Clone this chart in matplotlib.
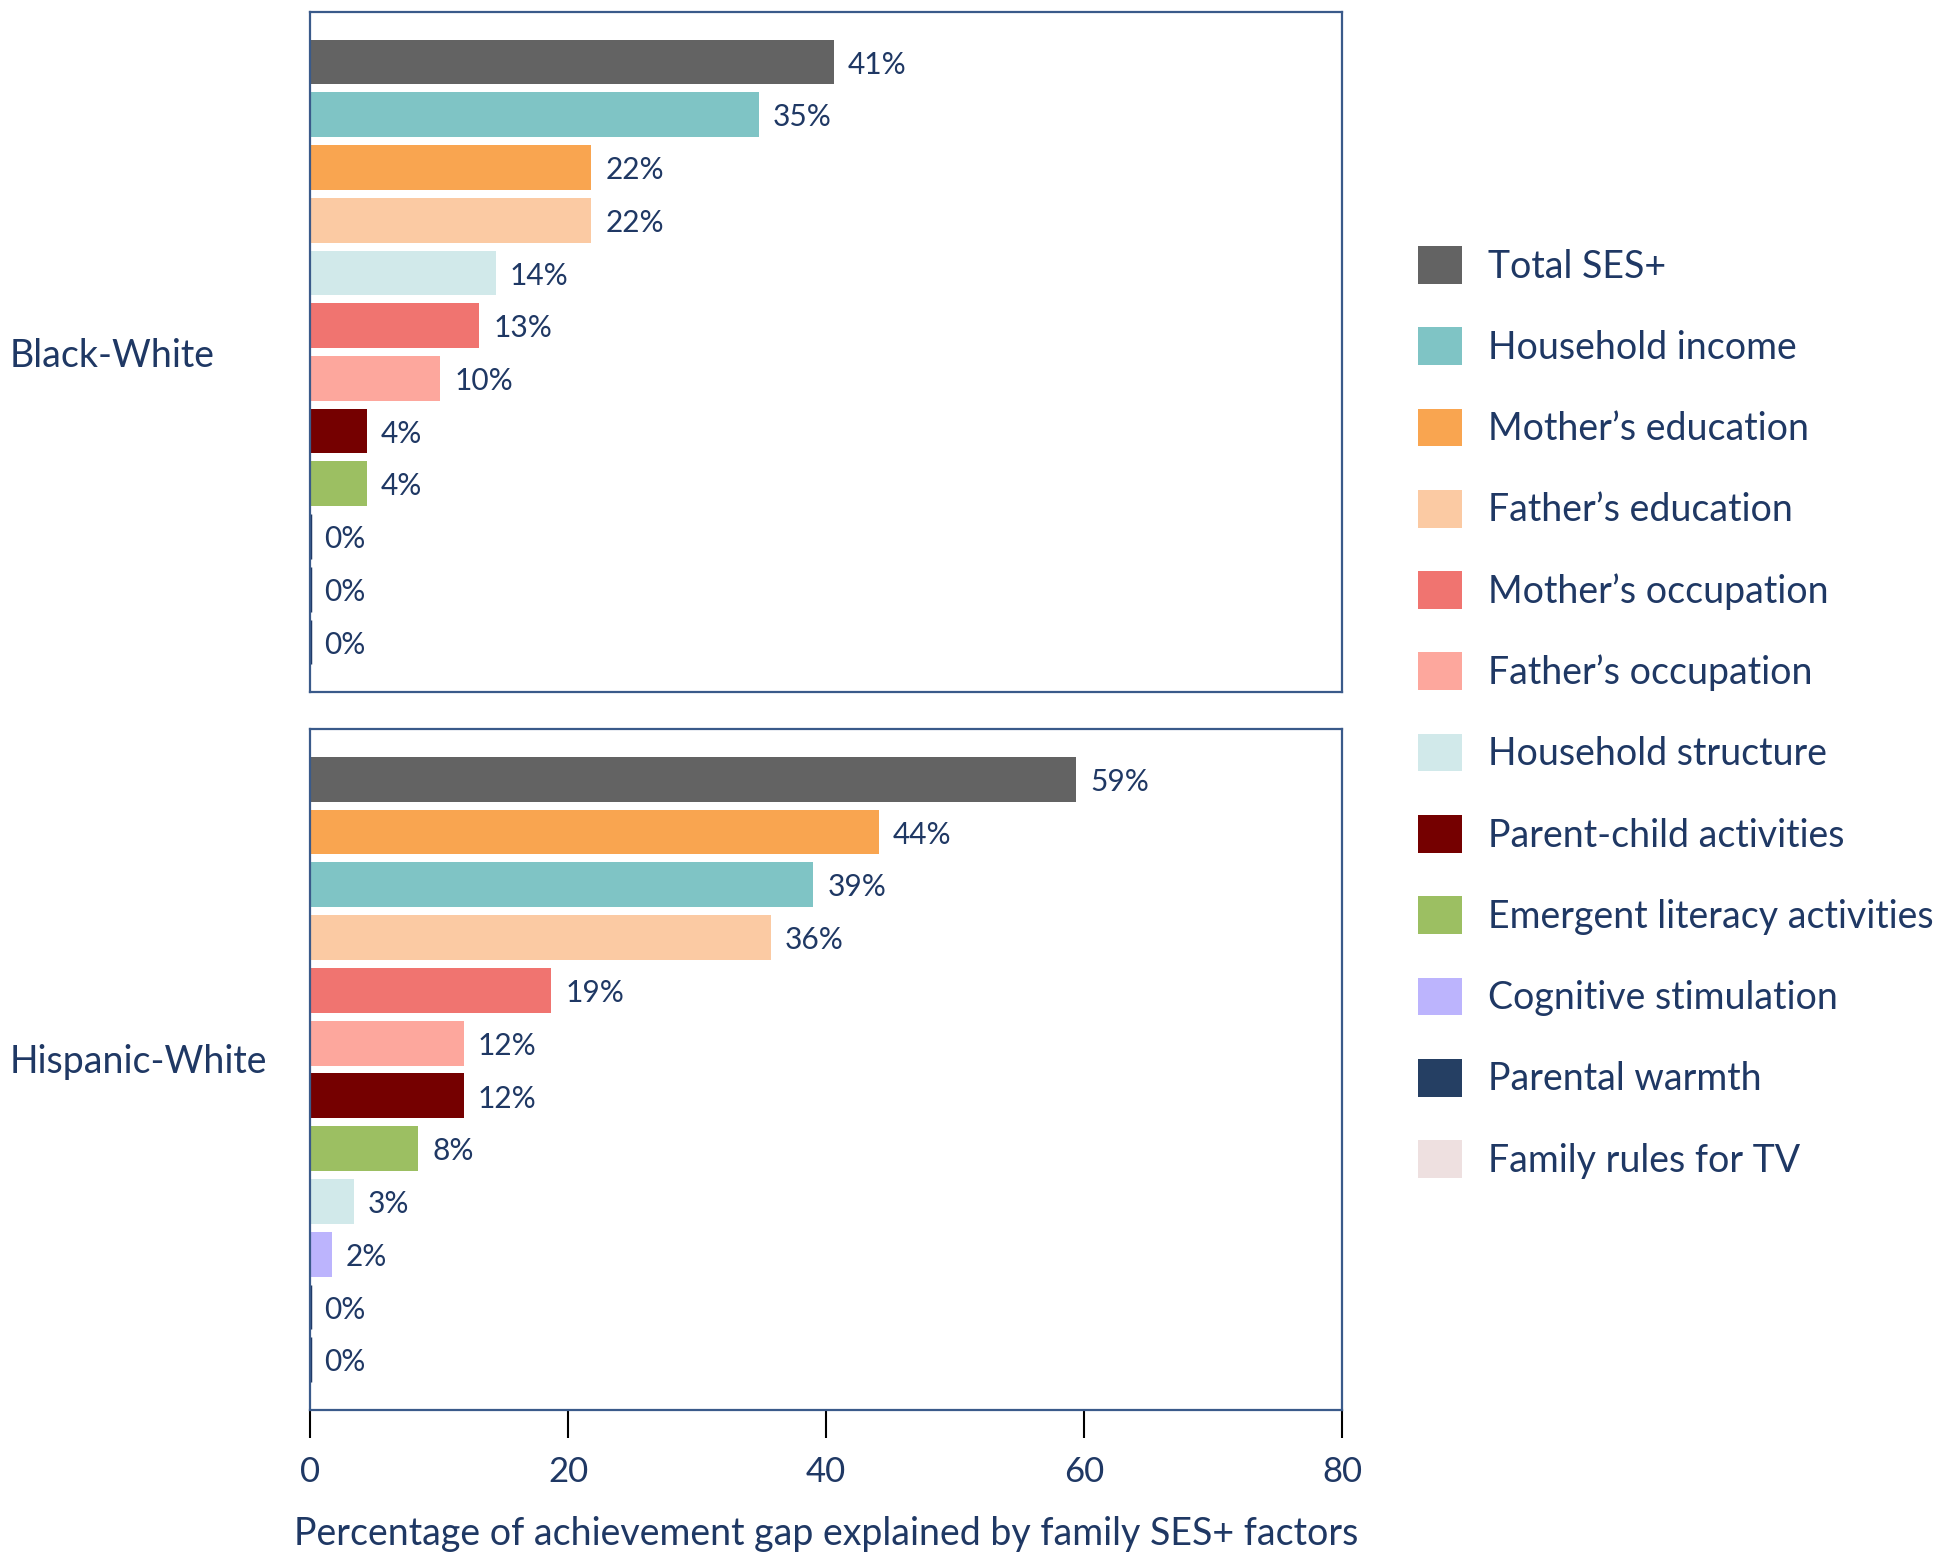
import matplotlib
matplotlib.use("Agg")
import matplotlib.pyplot as plt
from matplotlib.patches import Patch

plt.rcParams['font.family'] = ['Lato', 'DejaVu Sans']

NAVY = '#1f3864'

factors = ["Total SES+", "Household income", "Mother\u2019s education", "Father\u2019s education",
           "Mother\u2019s occupation", "Father\u2019s occupation", "Household structure",
           "Parent-child activities", "Emergent literacy activities", "Cognitive stimulation",
           "Parental warmth", "Family rules for TV"]
colors = ['#636363', '#7fc4c5', '#f9a550', '#fbcaa3', '#f07470', '#fda79d', '#d1e9ea',
          '#750000', '#9cbf62', '#bcb4fd', '#253f63', '#eee0e0']
color_of = dict(zip(factors, colors))

groups = ["Black-White", "Hispanic-White"]

bw_order = ["Total SES+", "Household income", "Mother\u2019s education", "Father\u2019s education",
            "Household structure", "Mother\u2019s occupation", "Father\u2019s occupation",
            "Parent-child activities", "Emergent literacy activities", "Cognitive stimulation",
            "Parental warmth", "Family rules for TV"]
bw_values = [40.6, 34.8, 21.8, 21.8, 14.4, 13.1, 10.1, 4.4, 4.4, 0, 0, 0]

hw_order = ["Total SES+", "Mother\u2019s education", "Household income", "Father\u2019s education",
            "Mother\u2019s occupation", "Father\u2019s occupation", "Parent-child activities",
            "Emergent literacy activities", "Household structure", "Cognitive stimulation",
            "Parental warmth", "Family rules for TV"]
hw_values = [59.4, 44.1, 39.0, 35.7, 18.7, 11.9, 11.9, 8.4, 3.4, 1.7, 0, 0]

xticks = [0, 20, 40, 60, 80]
xlabel = "Percentage of achievement gap explained by family SES+ factors"

W, H = 1951, 1563
fig = plt.figure(figsize=(W / 100, H / 100), dpi=100)

left = 310 / W
width = (1342 - 310) / W
ax_top = fig.add_axes([left, 1 - 692 / H, width, 680 / H])
ax_bot = fig.add_axes([left, 1 - 1410 / H, width, 681 / H])

for ax, name, order, vals, dy in [(ax_top, groups[0], bw_order, bw_values, -4),
                                  (ax_bot, groups[1], hw_order, hw_values, 8)]:
    ys = list(range(len(order)))
    for y, f, v in zip(ys, order, vals):
        if v == 0:
            ax.barh(y, v, height=0.85, color=color_of["Parental warmth"],
                    edgecolor=NAVY, linewidth=2.5)
        else:
            ax.barh(y, v, height=0.85, color=color_of[f], linewidth=0)
        ax.text(v + 1.1, y + 0.05, f"{round(v):.0f}%", va='center', ha='left',
                fontsize=21.5, color=NAVY)
    ax.set_xlim(0, 80)
    ax.set_ylim(len(order) - 1 + 0.95, -0.95)
    ax.set_yticks([])
    for s in ax.spines.values():
        s.set_color('#3a5a8a')
        s.set_linewidth(1.6)
    pos = ax.get_position()
    fig.text(10 / W, pos.y0 + pos.height / 2 + dy / H, name, ha='left', va='center',
             fontsize=27, color=NAVY)

ax_top.set_xticks([])
ax_bot.set_xticks(xticks)
ax_bot.set_xticklabels([str(t) for t in xticks], fontsize=25, color=NAVY)
ax_bot.tick_params(axis='x', length=20, width=1.5, color='black', pad=13)
ax_bot.set_xlabel(xlabel, fontsize=27, color=NAVY, labelpad=20)

handles = [Patch(facecolor=c, edgecolor='none') for c in colors]
leg = fig.legend(handles, factors, loc='upper left', bbox_to_anchor=(1418 / W, 1 - 246 / H),
                 frameon=False, fontsize=27, handlelength=1.17, handleheight=1.17,
                 labelspacing=1.14, handletextpad=0.7, borderaxespad=0, borderpad=0)
for t in leg.get_texts():
    t.set_color(NAVY)

fig.savefig("out.png", dpi=100)
